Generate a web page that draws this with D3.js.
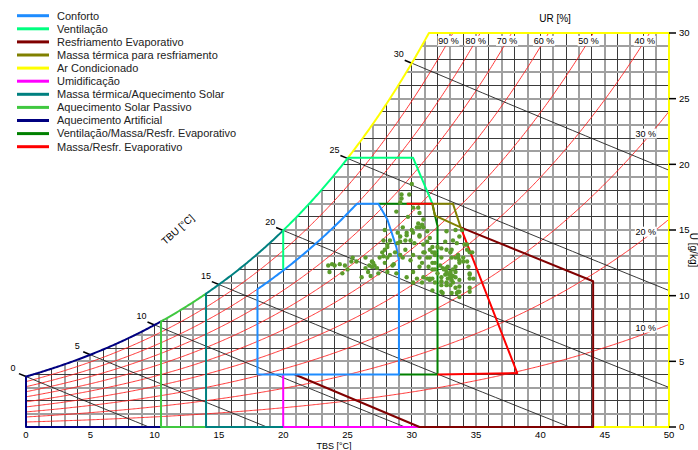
<!DOCTYPE html>
<html>
<head>
<meta charset="utf-8">
<script src="https://cdn.jsdelivr.net/npm/d3@7"></script>
<style>
body { margin: 0; background: #fff; }
svg { font-family: "Liberation Sans", Arial, sans-serif; }
</style>
</head>
<body>
<div id="chart"></div>
<script>
var w = 698, h = 450;
var P = 99.5; // pressao atmosferica (kPa)

var tbsTicks = [0, 5, 10, 15, 20, 25, 30, 35, 40, 45, 50];
var uTicks = [0, 5, 10, 15, 20, 25, 30];
var tbuValues = [0, 5, 10, 15, 20, 25, 30];
var urValues = [10, 20, 30, 40, 50, 60, 70, 80, 90];
var urTopLabels = [90, 80, 70, 60, 50, 40];
var urSideLabels = [30, 20, 10];

var legendNames = ["Conforto", "Ventilação", "Resfriamento Evaporativo", "Massa térmica para resfriamento",
    "Ar Condicionado", "Umidificação", "Massa térmica/Aquecimento Solar", "Aquecimento Solar Passivo",
    "Aquecimento Artificial", "Ventilação/Massa/Resfr. Evaporativo", "Massa/Resfr. Evaporativo"];
var legendColors = ["#1e8cff", "#00ff80", "#800000", "#808000", "#ffff00", "#ff00ff",
    "#008080", "#40c840", "#000080", "#008000", "#ff0000"];

// contornos das zonas [TBS, U]
var confortoEdge = [[27.4, 17], [28.1, 15.8], [28.8, 13.7], [29, 12.7], [29, 4], [18, 4]];
var ventilacaoEdge = [[30.1, 20.5], [31.6, 17]];
var resfrEvapPts = [[20.9, 4], [30.6, 0], [44.1, 0], [44.1, 11.1], [33.8, 15.2]];
var massaResfrPts = [[31.6, 17], [33.2, 17], [33.8, 15.2], [31.8, 16.1], [31.6, 17]];
var arCondEdge = [[50, 30], [50, 0], [44.1, 0]];
var umidPts = [[20, 4], [20, 0], [30.6, 0]];
var ventMassaPts = [[27.4, 17], [31.6, 17], [31.8, 16.1], [32, 15.3], [32, 4], [29, 4]];
var massaEvapTop = [[29.6, 17], [31.6, 17]];
var massaEvapSide = [[33.8, 15.2], [38.2, 4.1], [32, 4]];

// dados medidos
var pointT = [23.5, 23.8, 24.0, 24.4, 24.8, 23.6, 24.6, 25.3, 25.4, 26.1, 26.4, 26.6, 26.7, 26.9, 26.9, 27.0, 27.1, 27.3, 27.4, 27.7,
    27.8, 28.1, 28.5, 27.9, 28.1, 25.0, 25.7, 26.4, 27.5, 26.8, 29.2, 29.8, 30.0, 29.2, 29.1, 30.1, 30.5, 28.8, 29.7, 30.6,
    30.9, 30.5, 30.8, 30.4, 30.9, 30.0, 27.9, 29.3, 28.9, 29.6, 30.6, 31.2, 31.4, 29.9, 28.3, 27.8, 29.1, 30.2, 30.9, 31.6,
    32.3, 32.6, 33.2, 32.7, 33.4, 33.9, 33.7, 34.3, 33.0, 33.1, 33.6, 34.0, 34.5, 28.3, 29.1, 29.5, 30.1, 31.0, 31.8, 32.3,
    31.4, 30.6, 28.1, 28.7, 28.9, 29.1, 29.5, 29.6, 30.1, 30.6, 30.6, 31.2, 31.4, 31.8, 32.0, 32.7, 33.1, 33.5, 34.1, 34.3,
    34.3, 33.7, 33.4, 32.8, 32.7, 32.6, 33.0, 33.1, 33.4, 32.3, 32.0, 31.6, 31.6, 31.3, 31.2, 31.4, 31.8, 32.3, 32.7, 33.0,
    33.4, 33.7, 34.5, 34.8, 34.5, 34.4, 33.6, 33.5, 33.7, 31.6, 31.6, 30.1, 30.4, 30.6, 29.9, 29.3, 28.6, 27.9, 28.1, 28.8,
    29.6, 30.1, 30.8, 30.9, 30.9, 31.2, 31.6, 31.8, 32.2, 32.4, 33.0, 33.2, 33.4, 33.6, 33.7, 34.0, 34.5, 34.7, 34.5, 33.7,
    33.2, 32.3, 33.1, 33.7, 34.5, 31.4, 31.8, 30.8, 32.5, 32.7, 32.9, 33.0, 33.2, 32.8, 33.4, 32.3, 32.7, 32.4];
var pointU = [12.3, 12.4, 12.3, 12.4, 12.3, 11.8, 11.7, 12.6, 12.9, 11.4, 12.1, 11.8, 12.3, 12.6, 12.2, 12.5, 12.3, 12.1, 11.7, 13.3,
    13.0, 11.8, 12.3, 13.5, 13.7, 12.0, 12.6, 12.9, 12.9, 11.5, 17.7, 17.7, 18.5, 17.4, 17.1, 16.7, 16.7, 16.4, 16.0, 16.3,
    15.8, 15.5, 15.4, 15.2, 15.2, 15.0, 15.0, 15.2, 14.8, 14.6, 14.6, 14.9, 14.4, 14.2, 14.2, 14.2, 14.1, 14.0, 13.9, 13.7,
    13.6, 14.1, 14.2, 14.9, 15.0, 15.0, 14.5, 13.9, 13.3, 12.9, 12.9, 12.9, 13.3, 13.1, 13.1, 13.5, 13.1, 13.3, 13.1, 12.9,
    12.9, 12.9, 13.9, 13.3, 14.0, 14.5, 14.2, 14.8, 14.8, 15.2, 14.5, 14.1, 13.5, 13.3, 13.7, 13.5, 13.5, 14.0, 13.9, 13.5,
    12.6, 12.5, 12.2, 12.2, 11.8, 11.6, 11.4, 11.2, 11.4, 11.4, 11.7, 12.0, 12.5, 12.2, 11.3, 11.2, 11.0, 10.8, 10.8, 10.8,
    10.6, 10.7, 10.3, 11.3, 11.6, 12.2, 10.3, 10.2, 9.9, 10.4, 11.3, 11.8, 11.3, 12.2, 12.7, 12.9, 12.4, 12.5, 12.9, 11.7,
    11.4, 11.0, 11.0, 11.4, 13.3, 12.9, 13.3, 12.5, 12.3, 12.1, 11.7, 12.0, 12.9, 13.1, 12.7, 12.6, 11.7, 13.3, 11.3, 11.2,
    11.0, 10.3, 10.2, 10.3, 10.6, 11.3, 12.0, 12.5, 12.0, 12.1, 11.6, 11.8, 11.5, 11.3, 11.8, 11.1, 11.0, 10.2];

// psicrometria
function ps(t) { return 0.61078 * Math.exp(17.27 * t / (t + 237.3)); }
function rhU(t, rh) { var pw = rh * ps(t); return 622 * pw / (P - pw); }
function satU(t) { return rhU(t, 1); }
function tAtRh(rh, u) {
    if (u <= rhU(0, rh)) return 0;
    var lo = 0, hi = 60;
    for (var i = 0; i < 50; i++) { var m = (lo + hi) / 2; if (rhU(m, rh) < u) lo = m; else hi = m; }
    return (lo + hi) / 2;
}
function rhCurve(rh, t0, t1) {
    return d3.range(t0, t1, 0.1).concat([t1]).map(t => [t, rhU(t, rh)]);
}
function satCurve(t0, t1) { return rhCurve(1, t0, t1); }
function enthalpy(tbu) { return 1.006 * tbu + satU(tbu) * (2501 + 1.86 * tbu) / 1000; }
function hU(hv, t) { return (hv - 1.006 * t) * 1000 / (2501 + 1.86 * t); }

var svg = d3.select("#chart").append("svg").attr("width", w).attr("height", h);
var x = d3.scaleLinear().domain([0, 50]).range([26, 669]);
var y = d3.scaleLinear().domain([0, 30]).range([427, 33]);
var line = d3.line().x(d => x(d[0])).y(d => y(d[1]));

svg.append("clipPath").attr("id", "area").append("rect")
    .attr("x", x(0)).attr("y", y(30)).attr("width", x(50) - x(0)).attr("height", y(0) - y(30));

// grade
var grid = svg.append("g").attr("shape-rendering", "crispEdges");
grid.selectAll("line.v").data(d3.range(1, 50)).enter().append("line")
    .attr("x1", d => x(d)).attr("x2", d => x(d))
    .attr("y1", y(0)).attr("y2", d => y(Math.min(satU(d), 30)))
    .attr("stroke", d => d % 2 ? "#a0a0a0" : "#3a3a3a")
    .attr("stroke-width", d => d % 2 ? 2 : 1);
grid.selectAll("line.h").data(d3.range(1, 30)).enter().append("line")
    .attr("y1", d => y(d)).attr("y2", d => y(d))
    .attr("x1", d => x(tAtRh(1, d))).attr("x2", x(50))
    .attr("stroke", d => d % 2 ? "#a0a0a0" : "#3a3a3a")
    .attr("stroke-width", d => d % 2 ? 2 : 1);

// curvas de umidade relativa
svg.append("g").attr("clip-path", "url(#area)")
    .selectAll("path").data(urValues).enter().append("path")
    .attr("d", d => line(rhCurve(d / 100, 0, 50)))
    .attr("fill", "none").attr("stroke", "#ff2020").attr("stroke-width", 0.9);

// linhas de TBU
var tbu = svg.append("g");
tbu.selectAll("path").data(tbuValues).enter().append("path")
    .attr("d", d => {
        var hv = enthalpy(d), tEnd = Math.min(50, hv / 1.006);
        return line(d3.range(d, tEnd, 0.5).concat([tEnd]).map(t => [t, hU(hv, t)]));
    })
    .attr("fill", "none").attr("stroke", "#202020").attr("stroke-width", 0.9);
tbu.selectAll("line").data(tbuValues).enter().append("line")
    .attr("x1", d => x(d - 0.55)).attr("y1", d => y(hU(enthalpy(d), d - 0.55)))
    .attr("x2", d => x(d)).attr("y2", d => y(satU(d)))
    .attr("stroke", "#000").attr("stroke-width", 1.6);
tbu.selectAll("text").data(tbuValues).enter().append("text")
    .attr("x", d => x(d) - 13).attr("y", d => y(satU(d)) - 9).attr("dy", "0.35em")
    .attr("text-anchor", "middle").attr("font-size", 9).text(d => d);

// zonas
var tTop = tAtRh(1, 20.5), tMax = tAtRh(1, 30);
var zones = [
    { c: "#ffff00", pts: satCurve(tTop, tMax).concat(arCondEdge) },
    { c: "#ff00ff", pts: umidPts },
    { c: "#800000", pts: resfrEvapPts },
    { c: "#000080", pts: [[10.5, 0], [0, 0]].concat(satCurve(0, 10.5)) },
    { c: "#40c840", pts: [[14, 0], [10.5, 0]].concat(satCurve(10.5, 14)) },
    { c: "#008080", pts: [[20, 0], [14, 0]].concat(satCurve(14, 20)) },
    { c: "#00ff80", pts: [[20, rhU(20, 0.8)]].concat(satCurve(20, tTop), ventilacaoEdge) },
    { c: "#008000", pts: ventMassaPts },
    { c: "#ff0000", pts: massaEvapTop },
    { c: "#ff0000", pts: massaEvapSide },
    { c: "#808000", pts: massaResfrPts },
    { c: "#1e8cff", pts: [[18, 4]].concat(rhCurve(0.8, 18, tAtRh(0.8, 17)), confortoEdge) }
];
svg.append("g").selectAll("path").data(zones).enter().append("path")
    .attr("d", d => line(d.pts))
    .attr("fill", "none").attr("stroke", d => d.c).attr("stroke-width", 2)
    .attr("stroke-linejoin", "round");

// rotulos UR
var urLabels = urTopLabels.map(d => ({ v: d, t: tAtRh(d / 100, 29.4), u: 29.4 }))
    .concat(urSideLabels.map(d => ({ v: d, t: 48.2, u: rhU(48.2, d / 100) + 0.45 })));
var ul = svg.append("g").selectAll("g").data(urLabels).enter().append("g")
    .attr("transform", d => `translate(${x(d.t)},${y(d.u)})`);
ul.append("rect").attr("x", -11).attr("y", -5).attr("width", 22).attr("height", 10).attr("fill", "#fff");
ul.append("text").attr("text-anchor", "middle").attr("dy", "0.35em").attr("font-size", 9)
    .text(d => d.v + " %");

// pontos
svg.append("g").selectAll("circle").data(pointT).enter().append("circle")
    .attr("cx", (d, i) => x(d)).attr("cy", (d, i) => y(pointU[i]))
    .attr("r", 2.2).attr("fill", "#5b9b2b");

// eixos
svg.append("g").selectAll("text").data(tbsTicks).enter().append("text")
    .attr("x", d => x(d)).attr("y", 438).attr("text-anchor", "middle").attr("font-size", 9.5)
    .text(d => d);
var ry = svg.append("g");
ry.selectAll("line").data(uTicks).enter().append("line")
    .attr("x1", x(50)).attr("x2", x(50) + 7).attr("y1", d => y(d)).attr("y2", d => y(d))
    .attr("stroke", "#000").attr("stroke-width", 1.5);
ry.selectAll("text").data(uTicks).enter().append("text")
    .attr("x", x(50) + 10).attr("y", d => y(d)).attr("dy", "0.35em").attr("font-size", 9.5)
    .text(d => d);

svg.append("text").attr("x", 334).attr("y", 449).attr("text-anchor", "middle").attr("font-size", 9).text("TBS [°C]");
svg.append("text").attr("x", 555).attr("y", 22).attr("text-anchor", "middle").attr("font-size", 10).text("UR [%]");
svg.append("text").attr("transform", "translate(690,250) rotate(90)").attr("text-anchor", "middle")
    .attr("font-size", 10).text("U [g/kg]");
svg.append("text").attr("transform", "translate(180,232) rotate(-42)").attr("text-anchor", "middle")
    .attr("font-size", 10).text("TBU [°C]");

// legenda
var lg = svg.append("g").selectAll("g").data(legendNames).enter().append("g")
    .attr("transform", (d, i) => `translate(17,${15.7 + i * 13.1})`);
lg.append("line").attr("x1", 0).attr("x2", 32).attr("stroke", (d, i) => legendColors[i]).attr("stroke-width", 3);
lg.append("text").attr("x", 40).attr("dy", "0.35em").attr("font-size", 11).attr("fill", "#222").text(d => d);
</script>
</body>
</html>
